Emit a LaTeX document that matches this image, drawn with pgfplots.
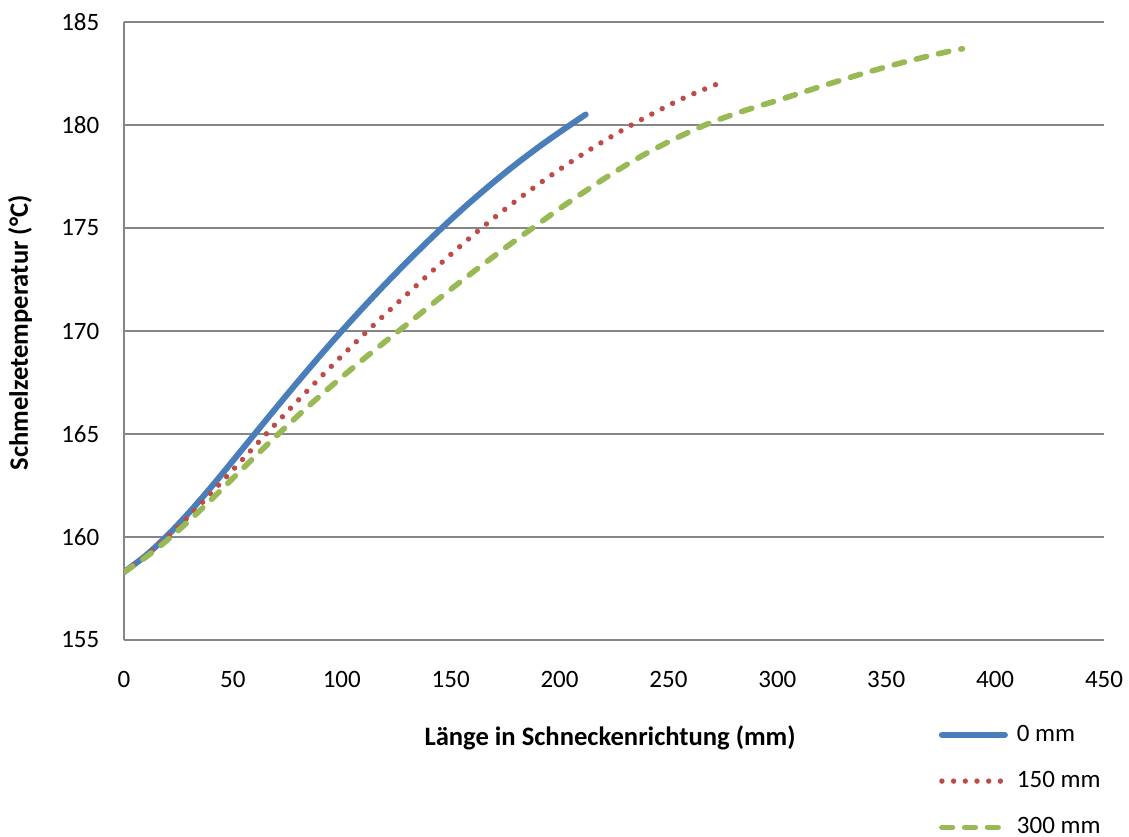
\documentclass[border=0pt]{standalone}
\usepackage{fontspec}
\setmainfont{Carlito}
\usepackage{pgfplots}
\pgfplotsset{compat=1.18}
\definecolor{cblue}{HTML}{4A7EBB}
\definecolor{cred}{HTML}{BE4B48}
\definecolor{cgreen}{HTML}{98B954}
\definecolor{cgrid}{HTML}{868686}
\begin{document}
\begin{tikzpicture}
\begin{axis}[
  at={(0,0)}, anchor=south west,
  scale only axis, width=490pt, height=309pt,
  xmin=0, xmax=450, ymin=155, ymax=185,
  xtick={0,50,...,450}, ytick={155,160,...,185},
  axis lines=left,
  axis line style={-, draw=cgrid, line width=1pt},
  ymajorgrids, grid style={draw=cgrid, line width=1pt},
  major tick length=0pt,
  tick style={draw=none},
  /pgf/number format/assume math mode=true,
  tick label style={font=\fontsize{12.5}{15}\selectfont},
  xticklabel style={yshift=-12.3pt},
  yticklabel style={xshift=-8.8pt},
  xlabel={\textbf{Länge in Schneckenrichtung (mm)}},
  ylabel={\textbf{Schmelzetemperatur (°C)}},
  label style={font=\fontsize{13.3}{15}\selectfont},
  xlabel style={at={(axis description cs:0.496,-0.159)}, anchor=center},
  ylabel style={at={(axis description cs:-0.106,0.497)}, anchor=center},
  legend style={draw=none, fill=none, at={(axis description cs:0.825,-0.126)}, anchor=north west,
    font=\fontsize{12.5}{15}\selectfont, row sep=10.5pt, nodes={inner sep=1.5pt},
    /tikz/every odd column/.append style={column sep=3pt}},
  legend cell align=left,
  legend image code/.code={\draw[#1] (0pt,0pt) -- (31.5pt,0pt);},
]
\addplot[cblue, line width=3pt, line cap=round, smooth] coordinates {
(0,158.3) (10,159.10) (20,160.08) (30,161.20) (40,162.42) (50,163.70) (60,165.00) (70,166.29)
(80,167.56) (90,168.80) (100,170.00) (110,171.16) (120,172.28) (130,173.36) (140,174.40)
(150,175.40) (160,176.35) (170,177.25) (180,178.10) (190,178.90) (200,179.65) (212,180.51)};
\addlegendentry{0 mm}
\addplot[cred, line width=2.7pt, line cap=round, dash pattern=on 0pt off 5.85pt, smooth] coordinates {
(0,158.3) (10,159.08) (20,160.00) (30,161.03) (40,162.13) (50,163.26) (60,164.40) (70,165.53)
(80,166.64) (90,167.73) (100,168.79) (110,169.82) (120,170.82) (130,171.79) (140,172.76)
(150,173.71) (160,174.63) (170,175.50) (180,176.32) (190,177.10) (200,177.84) (210,178.54)
(220,179.20) (230,179.82) (240,180.40) (250,180.95) (260,181.45) (275,182.10)};
\addlegendentry{150 mm}
\addplot[cgreen, line width=2.8pt, line cap=round, dash pattern=on 5.3pt off 6.1pt, smooth] coordinates {
(0,158.3) (10,159.02) (20,159.86) (30,160.80) (40,161.81) (50,162.85) (60,163.89) (70,164.91)
(80,165.90) (90,166.85) (100,167.76) (110,168.64) (120,169.49) (130,170.33) (140,171.18)
(150,172.02) (160,172.84) (170,173.64) (180,174.42) (190,175.18) (200,175.94) (210,176.66)
(220,177.36) (230,178.02) (240,178.63) (250,179.18) (260,179.68) (270,180.14) (280,180.52)
(290,180.87) (300,181.19) (310,181.53) (320,181.87) (330,182.20) (340,182.52) (350,182.82)
(360,183.10) (370,183.36) (380,183.60) (385,183.70)};
\addlegendentry{300 mm}
\end{axis}
\pgfresetboundingbox
\useasboundingbox (-62pt,-98pt) rectangle (502.5pt,320pt);
\end{tikzpicture}
\end{document}
